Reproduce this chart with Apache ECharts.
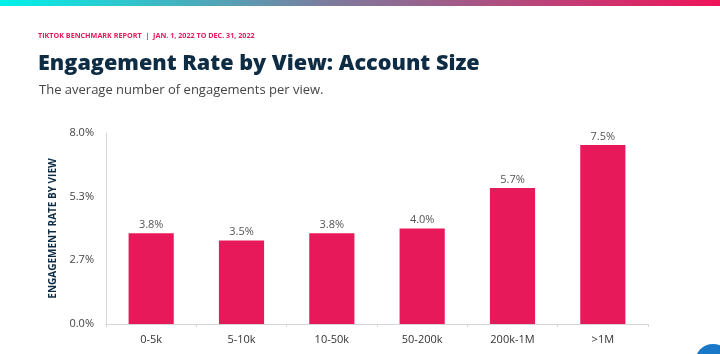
<!DOCTYPE html>
<html>
<head>
<meta charset="utf-8">
<script src="https://cdn.jsdelivr.net/npm/echarts@6/dist/echarts.min.js"></script>
<style>
  html, body { margin: 0; padding: 0; background: #fff; }
  #chart { width: 720px; height: 354px; }
</style>
</head>
<body>
<div id="chart"></div>
<script>
// data
let categories = ['0-5k', '5-10k', '10-50k', '50-200k', '200k-1M', '>1M'];
let rates = [3.8, 3.5, 3.8, 4.0, 5.7, 7.5];

let pink = '#E8195B';
let font = '"Open Sans", sans-serif';

let chart = echarts.init(document.getElementById('chart'), null, {renderer: 'canvas'});
let option = {
    animation: false,
    textStyle: { fontFamily: font },
    title: [{
        text: 'TIKTOK BENCHMARK REPORT  |  JAN. 1, 2022 TO DEC. 31, 2022',
        left: 33,
        top: 27,
        textStyle: { fontSize: 7.2, fontWeight: 'bold', color: pink, fontFamily: font }
    }, {
        text: 'Engagement Rate by View: Account Size',
        left: 33,
        top: 48,
        textStyle: { fontSize: 21.6, fontWeight: 800, color: '#0E2C44', fontFamily: font }
    }, {
        text: 'The average number of engagements per view.',
        left: 34,
        top: 79,
        textStyle: { fontSize: 13, fontWeight: 'normal', color: '#444', fontFamily: font }
    }],
    graphic: [{
        type: 'rect',
        shape: { x: 0, y: 0, width: 720, height: 6 },
        style: {
            fill: new echarts.graphic.LinearGradient(0, 0, 1, 0, [
                { offset: 0, color: '#00F2EA' },
                { offset: 0.45, color: '#7A7D9E' },
                { offset: 1, color: '#F0145A' }
            ])
        }
    }, {
        type: 'circle',
        shape: { cx: 713, cy: 362, r: 18 },
        style: { fill: '#1A78C8' }
    }],
    grid: { left: 106, right: 72, top: 133, bottom: 30 },
    xAxis: {
        type: 'category',
        data: categories,
        axisLine: { lineStyle: { color: '#d6d6d6' } },
        axisTick: { show: true, length: 3, lineStyle: { color: '#d6d6d6' } },
        axisLabel: { fontSize: 11, color: '#333', margin: 10 }
    },
    yAxis: {
        type: 'value',
        min: 0,
        max: 8,
        interval: 8 / 3,
        name: 'ENGAGEMENT RATE BY VIEW',
        nameLocation: 'middle',
        nameRotate: 90,
        nameGap: 37,
        nameTextStyle: { fontSize: 10, fontWeight: 'bold', color: '#0E2C44' },
        axisLine: { show: true, lineStyle: { color: '#d6d6d6' } },
        axisTick: { show: false },
        splitLine: { show: false },
        axisLabel: {
            fontSize: 11, color: '#444', margin: 12,
            formatter: v => v.toFixed(1) + '%'
        }
    },
    series: [{
        type: 'bar',
        data: rates,
        barWidth: '50%',
        itemStyle: { color: pink },
        label: {
            show: true,
            position: 'top',
            distance: 3,
            fontSize: 11,
            color: '#555',
            formatter: p => p.value.toFixed(1) + '%'
        }
    }]
};
chart.setOption(option);
</script>
</body>
</html>
